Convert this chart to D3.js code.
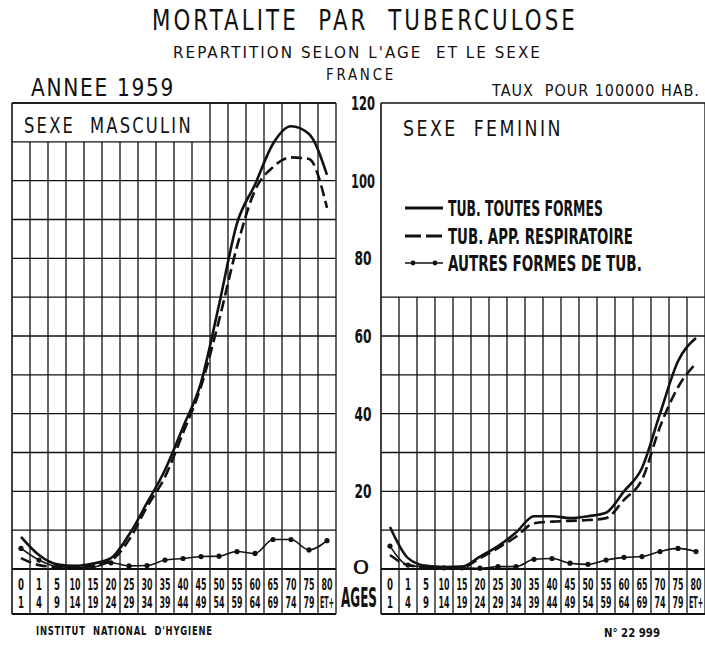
<!DOCTYPE html>
<html lang="fr">
<head>
<meta charset="UTF-8" />
<title>Mortalite par tuberculose 1959</title>
<script src="https://d3js.org/d3.v7.min.js"></script>
<style>
  body { margin: 0; background: #fff; }
  svg { display: block; }
  svg text { white-space: pre; }
</style>
</head>
<body>
<div id="chart"></div>
<script>
// age groups (two-line labels under each column)
const ageTop = ['0', '1', '5', '10', '15', '20', '25', '30', '35', '40', '45', '50', '55', '60', '65', '70', '75', '80'];
const ageBottom = ['1', '4', '9', '14', '19', '24', '29', '34', '39', '44', '49', '54', '59', '64', '69', '74', '79', 'ET+'];

// rates per 100 000
const maleAll = [8.3, 3.6, 1.2, 0.8, 1.4, 2.8, 8.8, 17, 25.5, 36.5, 48, 68, 89, 99, 109.5, 114, 112, 101.5];
const maleResp = [2.8, 1.0, 0.5, 0.4, 0.9, 2.2, 7.5, 16, 23.7, 35, 47, 64, 83, 97.5, 103.5, 106, 105.6, 93];
const maleOther = [5.3, 2.3, 0.6, 0.4, 0.5, 1.6, 0.8, 0.9, 2.3, 2.7, 3.2, 3.3, 4.5, 4.0, 7.6, 7.6, 4.9, 7.3];

const femaleAll = [10.8, 2.8, 0.8, 0.5, 0.6, 3.2, 5.9, 9.4, 13.6, 13.6, 13.1, 13.6, 14.5, 20, 26, 40, 53.5, 59.5];
const femaleResp = [3.6, 1.0, 0.5, 0.4, 0.4, 2.8, 5.4, 8.3, 11.8, 12.2, 12.4, 12.6, 13.1, 17.8, 23, 36.6, 46.8, 53];
const femaleOther = [5.9, 1.0, 0.5, 0.3, 0.3, 0.2, 0.6, 0.6, 2.5, 2.7, 1.5, 1.2, 2.3, 3.0, 3.2, 4.5, 5.3, 4.5];

const yTicks = [0, 20, 40, 60, 80, 100, 120];
const legendLabels = ['TUB. TOUTES FORMES', 'TUB. APP. RESPIRATOIRE', 'AUTRES FORMES DE TUB.'];

const W = 705, H = 646;
const ink = '#111';
const cond = '"DejaVu Sans Condensed", "Liberation Sans Narrow", "DejaVu Sans", sans-serif';
const plain = '"DejaVu Sans", "Liberation Sans", sans-serif';

const svg = d3.select('#chart').append('svg')
  .attr('width', W).attr('height', H);

const y = d3.scaleLinear().domain([0, 120]).range([569, 103]);
const ageBottomY = 614;
const idx = d3.range(ageTop.length);

// text squeezed/stretched horizontally to a given width (keeps a true bounding box)
function label(parent, txt, x, yy, size, len, opts = {}) {
  const g = parent.append('g');
  const t = g.append('text')
    .attr('font-family', opts.family || plain)
    .attr('font-weight', opts.weight || 'normal')
    .attr('font-size', size)
    .attr('fill', ink)
    .attr('text-anchor', opts.anchor || 'start')
    .style('letter-spacing', opts.spacing ? opts.spacing + 'px' : null)
    .text(txt);
  let sx = 1;
  if (len) {
    const natural = t.node().getComputedTextLength();
    if (natural > 0) sx = len / natural;
  }
  g.attr('transform', `translate(${x},${yy}) scale(${sx},1)`);
  return g;
}

// headings (lettering is narrow and widely spaced)
label(svg, 'MORTALITE  PAR  TUBERCULOSE', 152, 30, 28, 426, { spacing: 4 });
label(svg, "REPARTITION SELON L'AGE  ET LE SEXE", 173, 58, 15, 369, { spacing: 2 });
label(svg, 'FRANCE', 326, 80, 15, 70, { spacing: 3 });
label(svg, 'ANNEE 1959', 31, 96, 24, 144, { spacing: 2 });
label(svg, 'TAUX  POUR 100000 HAB.', 492, 96, 15, 208, { spacing: 1 });

function drawPanel(left, gridTop, openCols, all, resp, other) {
  const x = d3.scaleBand().domain(idx).range([left, left + 324]);
  const bw = x.bandwidth();
  const g = svg.append('g');

  // horizontal grid lines
  d3.range(0, gridTop + 1, 10).forEach(v => {
    g.append('line')
      .attr('x1', left).attr('x2', left + 324)
      .attr('y1', y(v)).attr('y2', y(v))
      .attr('stroke', ink).attr('stroke-width', v === 0 ? 2.2 : 1.3);
  });
  // top border
  g.append('line')
    .attr('x1', left).attr('x2', left + 324)
    .attr('y1', y(120)).attr('y2', y(120))
    .attr('stroke', ink).attr('stroke-width', 1.5);
  // bottom of age row
  g.append('line')
    .attr('x1', left).attr('x2', left + 324)
    .attr('y1', ageBottomY).attr('y2', ageBottomY)
    .attr('stroke', ink).attr('stroke-width', 2);

  // vertical grid lines
  d3.range(0, idx.length + 1).forEach(i => {
    const xx = left + i * bw;
    let top = y(120);
    if (i > 0 && i < idx.length && !openCols(i)) top = y(gridTop === 120 ? 110 : gridTop);
    g.append('line')
      .attr('x1', xx).attr('x2', xx)
      .attr('y1', top).attr('y2', ageBottomY)
      .attr('stroke', ink).attr('stroke-width', i === 0 ? 1.6 : 1.3);
  });

  // age labels (narrow lettering)
  const ageLen = s => s.length === 1 ? 6 : s.length === 2 ? 11 : 14;
  idx.forEach(i => {
    [[ageTop[i], 590], [ageBottom[i], 608]].forEach(([s, yy]) => {
      label(g, s, x(i) + bw / 2, yy, 15, ageLen(s), { family: cond, weight: 'bold', anchor: 'middle' });
    });
  });

  const line = d3.line()
    .x((d, i) => x(i) + bw / 2)
    .y(d => y(d))
    .curve(d3.curveMonotoneX);

  g.append('path').datum(other)
    .attr('d', line).attr('fill', 'none')
    .attr('stroke', ink).attr('stroke-width', 1.6);
  g.selectAll('circle.pt').data(other).enter().append('circle')
    .attr('class', 'pt')
    .attr('cx', (d, i) => x(i) + bw / 2).attr('cy', d => y(d))
    .attr('r', 2.6).attr('fill', ink);
  g.append('path').datum(resp)
    .attr('d', line).attr('fill', 'none')
    .attr('stroke', ink).attr('stroke-width', 2.6)
    .attr('stroke-dasharray', '11,5');
  g.append('path').datum(all)
    .attr('d', line).attr('fill', 'none')
    .attr('stroke', ink).attr('stroke-width', 2.6);
}

// male: label box over the first 11 columns of the top row
drawPanel(12, 120, i => i > 10, maleAll, maleResp, maleOther);
label(svg, 'SEXE  MASCULIN', 24, 133, 22, 169, { spacing: 3 });

// female: grid only up to 70, white legend box above
drawPanel(381, 70, () => false, femaleAll, femaleResp, femaleOther);
label(svg, 'SEXE  FEMININ', 403, 136, 21, 160, { spacing: 3 });

// legend
const legendY = [208, 236, 263];
const legendLen = [155, 185, 194];
legendLabels.forEach((t, i) => {
  const ly = legendY[i];
  const l = svg.append('line')
    .attr('x1', 405).attr('x2', 443).attr('y1', ly).attr('y2', ly)
    .attr('stroke', ink).attr('stroke-width', i === 2 ? 1.6 : 2.8);
  if (i === 1) l.attr('stroke-dasharray', '16,5');
  if (i === 2) {
    [413, 435].forEach(cx => svg.append('circle')
      .attr('cx', cx).attr('cy', ly).attr('r', 2.4).attr('fill', ink));
  }
  label(svg, t, 448, ly + 8, 21, legendLen[i], { family: cond, weight: 'bold' });
});

// y axis labels between the panels
yTicks.forEach(v => {
  if (v === 0) {
    label(svg, '0', 361, 574, 19, 18, { anchor: 'middle' });
  } else {
    label(svg, String(v), 363, y(v) + 7, 19, v >= 100 ? 24 : 17, { family: cond, weight: 'bold', anchor: 'middle' });
  }
});
label(svg, 'AGES', 341, 607, 26, 36, { family: cond, weight: 'bold' });

// footer
label(svg, "INSTITUT  NATIONAL  D'HYGIENE", 36, 635, 12, 177, { family: cond, weight: 'bold', spacing: 1 });
label(svg, 'N° 22 999', 604, 637, 12, 56, { family: cond, weight: 'bold' });
</script>
</body>
</html>
